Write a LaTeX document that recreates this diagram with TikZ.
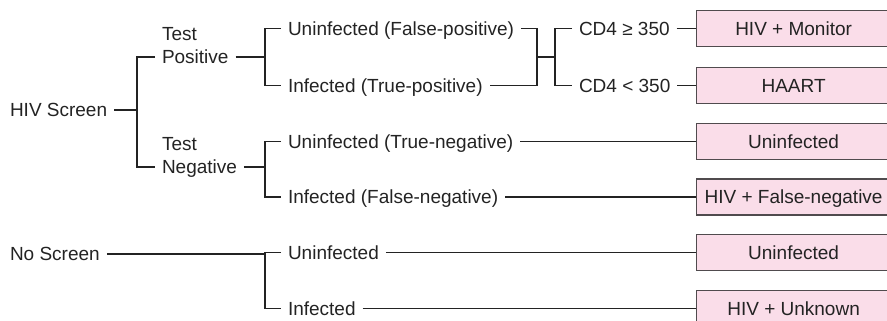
\documentclass[tikz,border=0pt]{standalone}
\usepackage{fontspec}
\setmainfont{Liberation Sans}
\definecolor{boxpink}{RGB}{250,221,233}
\definecolor{boxedge}{RGB}{80,75,78}
\definecolor{inkgray}{RGB}{35,35,35}
\begin{document}
\begin{tikzpicture}[x=1pt,y=-1pt,
  every node/.style={font=\fontsize{19}{22}\selectfont, text=inkgray},
  lbl/.style={anchor=west, inner xsep=0pt, inner ysep=0pt, outer xsep=7pt, outer ysep=0pt,
              text height=13.6pt, text depth=0pt},
  outbox/.style={draw=boxedge, fill=boxpink, line width=1.2pt, minimum width=194pt,
                 minimum height=36pt, inner sep=0pt, anchor=west, text height=13.6pt, text depth=0pt},
  conn/.style={draw=inkgray, line width=1.1pt}]
\useasboundingbox (0,0) rectangle (887,321);
\clip (0,0) rectangle (887,321);

% boxes
\node[outbox] (b1) at (696,28.7) {HIV + Monitor};
\node[outbox] (b2) at (696,85.5) {HAART};
\node[outbox] (b3) at (696,141.5) {Uninfected};
\node[outbox] (b4) at (696,197) {HIV + False-negative};
\node[outbox] (b5) at (696,252.5) {Uninfected};
\node[outbox] (b6) at (696,308.7) {HIV + Unknown};

% text nodes
\node[lbl] (hiv) at (3,110) {HIV Screen};
\node[lbl] (pos) at (155,57) {Positive};
\node[lbl] (tpos) at (155,33.5) {Test};
\node[lbl] (neg) at (155,167) {Negative};
\node[lbl] (tneg) at (155,143.5) {Test};
\node[lbl] (ufp) at (281,28.7) {Uninfected (False-positive)};
\node[lbl] (itp) at (281,85.5) {Infected (True-positive)};
\node[lbl] (cda) at (572,28.7) {CD4 ≥ 350};
\node[lbl] (cdb) at (572,85.5) {CD4 < 350};
\node[lbl] (utn) at (281,141.5) {Uninfected (True-negative)};
\node[lbl] (ifn) at (281,197) {Infected (False-negative)};
\node[lbl] (nos) at (3,254) {No Screen};
\node[lbl] (uns) at (281,252.5) {Uninfected};
\node[lbl] (ins) at (281,308.7) {Infected};

% junctions
\coordinate (j1) at (137,110);
\coordinate (j2) at (265,57);
\coordinate (j3) at (537,57);
\coordinate (j4) at (555,57);
\coordinate (j5) at (265,167);
\coordinate (j6) at (265,254);

% connectors
\draw[conn] (hiv.east) -- (j1);
\draw[conn] (pos.west) -| (j1) |- (neg.west);
\draw[conn] (pos.east) -- (j2);
\draw[conn] (ufp.west) -| (j2) |- (itp.west);
\draw[conn] (ufp.east) -| (j3) |- (itp.east);
\draw[conn] (j3) -- (j4);
\draw[conn] (cda.west) -| (j4) |- (cdb.west);
\draw[conn] (cda.east) -- (cda.east -| b1.west);
\draw[conn] (cdb.east) -- (cdb.east -| b2.west);
\draw[conn] (neg.east) -- (j5);
\draw[conn] (utn.west) -| (j5) |- (ifn.west);
\draw[conn] (utn.east) -- (utn.east -| b3.west);
\draw[conn] (ifn.east) -- (ifn.east -| b4.west);
\draw[conn] (nos.east) -- (j6);
\draw[conn] (uns.west) -| (j6) |- (ins.west);
\draw[conn] (uns.east) -- (uns.east -| b5.west);
\draw[conn] (ins.east) -- (ins.east -| b6.west);
\end{tikzpicture}
\end{document}
